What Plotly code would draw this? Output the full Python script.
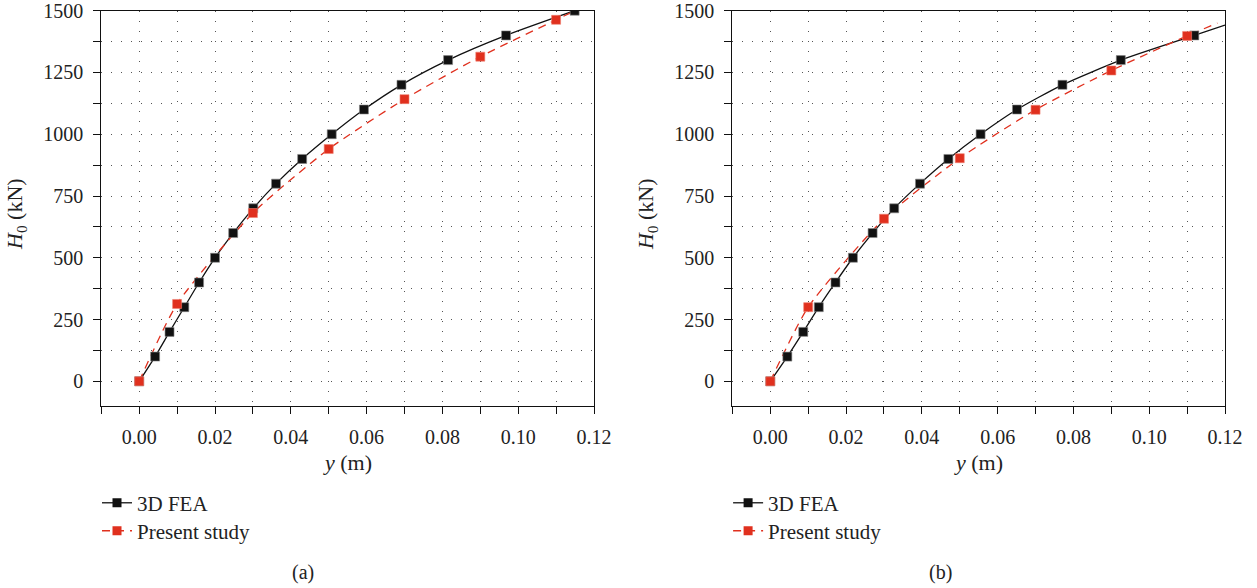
import plotly.graph_objects as go

# ---------------- data ----------------
load_fea = [0, 100, 200, 300, 400, 500, 600, 700, 800, 900, 1000, 1100, 1200, 1300, 1400, 1500]

# panel (a)
fea_a_x = [0, 0.0042, 0.0080, 0.0119, 0.0158, 0.0200, 0.0248, 0.0301, 0.0361,
           0.0430, 0.0508, 0.0593, 0.0692, 0.0815, 0.0968, 0.1149]
fea_a_y = load_fea
fea_a_tail_x = []
fea_a_tail_y = []
present_a_x = [0, 0.01, 0.03, 0.05, 0.07, 0.09, 0.11]
present_a_y = [0, 313, 681, 940, 1142, 1314, 1463]
present_a_tail_x = [0.115]
present_a_tail_y = [1500]

# panel (b)
fea_b_x = [0, 0.0045, 0.0087, 0.0128, 0.0172, 0.0218, 0.0270, 0.0327, 0.0395,
           0.0470, 0.0555, 0.0651, 0.0771, 0.0925, 0.1119]
fea_b_y = load_fea[:15]
fea_b_tail_x = [0.12]
fea_b_tail_y = [1442]
present_b_x = [0, 0.01, 0.03, 0.05, 0.07, 0.09, 0.11]
present_b_y = [0, 300, 658, 903, 1099, 1258, 1398]
present_b_tail_x = [0.118]
present_b_tail_y = [1450]

x_ticks = [0.00, 0.02, 0.04, 0.06, 0.08, 0.10, 0.12]
y_ticks = [0, 250, 500, 750, 1000, 1250, 1500]

series_names = ["3D FEA", "Present study"]
panel_labels = ["(a)", "(b)"]

# ---------------- style ----------------
W, H = 1257, 588
FONT = "Liberation Serif"
BLACK = "#111111"
TXT = "#222222"
RED = "#e0301e"
GRID = "#555555"
MS = 9

def px_x(p):
    return p / W

def px_y(p):
    return 1 - p / H

AX_A = (101.3, 594.0)
AX_B = (732.4, 1225.0)
TOP, BOT = 10.7, 406.0
DX = AX_B[0] - AX_A[0]

fig = go.Figure()

panels = [
    dict(xa="x", ya="y", legs=("legend", "legend2"),
         fx=fea_a_x, fy=fea_a_y, ftx=fea_a_tail_x, fty=fea_a_tail_y,
         px_=present_a_x, py_=present_a_y, ptx=present_a_tail_x, pty=present_a_tail_y),
    dict(xa="x2", ya="y2", legs=("legend3", "legend4"),
         fx=fea_b_x, fy=fea_b_y, ftx=fea_b_tail_x, fty=fea_b_tail_y,
         px_=present_b_x, py_=present_b_y, ptx=present_b_tail_x, pty=present_b_tail_y),
]

for p in panels:
    fig.add_trace(go.Scatter(x=p["fx"] + p["ftx"], y=p["fy"] + p["fty"], mode="lines",
                             line=dict(color=BLACK, width=1.3, shape="spline", smoothing=0.6),
                             xaxis=p["xa"], yaxis=p["ya"], showlegend=False, hoverinfo="skip"))
    fig.add_trace(go.Scatter(x=p["px_"] + p["ptx"], y=p["py_"] + p["pty"], mode="lines",
                             line=dict(color=RED, width=1.3, dash="8px,6px", shape="spline", smoothing=0.6),
                             xaxis=p["xa"], yaxis=p["ya"], showlegend=False, hoverinfo="skip"))
    fig.add_trace(go.Scatter(x=p["fx"], y=p["fy"], mode="markers",
                             marker=dict(symbol="square", size=MS, color=BLACK,
                                         line=dict(color="#888888", width=0.6)),
                             xaxis=p["xa"], yaxis=p["ya"], showlegend=False))
    fig.add_trace(go.Scatter(x=p["px_"], y=p["py_"], mode="markers",
                             marker=dict(symbol="square", size=MS, color=RED,
                                         line=dict(color="#f08070", width=0.6)),
                             xaxis=p["xa"], yaxis=p["ya"], showlegend=False))
    fig.add_trace(go.Scatter(x=[None], y=[None], mode="lines+markers", name=series_names[0],
                             line=dict(color="#333333", width=1.5),
                             marker=dict(symbol="square", size=MS, color=BLACK),
                             xaxis=p["xa"], yaxis=p["ya"], legend=p["legs"][0], showlegend=True))
    fig.add_trace(go.Scatter(x=[None], y=[None], mode="lines+markers", name=series_names[1],
                             line=dict(color=RED, width=1.5, dash="8px,6px"),
                             marker=dict(symbol="square", size=MS, color=RED),
                             xaxis=p["xa"], yaxis=p["ya"], legend=p["legs"][1], showlegend=True))

xdom_a = [px_x(AX_A[0]), px_x(AX_A[1])]
xdom_b = [px_x(AX_B[0]), px_x(AX_B[1])]
ydom = [px_y(BOT), px_y(TOP)]

def xaxis_cfg(dom, anchor):
    return dict(domain=dom, anchor=anchor, range=[-0.01, 0.12], automargin=False,
                tickmode="array", tickvals=x_ticks, tickformat=".2f",
                ticks="outside", ticklen=7, tickwidth=1.2, tickcolor=BLACK,
                ticklabelstandoff=6, ticklabeloverflow="allow",
                showline=True, linecolor=BLACK, linewidth=1.3, mirror=True,
                showgrid=True, gridcolor=GRID, gridwidth=1, griddash="1px,9px",
                zeroline=False,
                minor=dict(dtick=0.01, tick0=0, ticks="outside", ticklen=7, tickcolor=BLACK,
                           tickwidth=1.2,
                           showgrid=True, gridcolor=GRID, gridwidth=1, griddash="1px,9px"),
                tickfont=dict(family=FONT, size=20, color=TXT))

def yaxis_cfg(anchor):
    return dict(domain=ydom, anchor=anchor, range=[-100, 1500], automargin=False,
                tickmode="array", tickvals=y_ticks,
                ticks="outside", ticklen=7, tickwidth=1.2, tickcolor=BLACK,
                ticklabelstandoff=6, ticklabeloverflow="allow",
                showline=True, linecolor=BLACK, linewidth=1.3, mirror=True,
                showgrid=True, gridcolor=GRID, gridwidth=1, griddash="1px,9px",
                zeroline=False,
                minor=dict(dtick=125, tick0=0, ticks="outside", ticklen=7, tickcolor=BLACK,
                           tickwidth=1.2,
                           showgrid=True, gridcolor=GRID, gridwidth=1, griddash="1px,9px"),
                tickfont=dict(family=FONT, size=20, color=TXT))

legend_common = dict(font=dict(family=FONT, size=21, color=TXT),
                     bgcolor="rgba(0,0,0,0)", borderwidth=0, xanchor="left", yanchor="middle",
                     tracegroupgap=0, itemwidth=30)

LEG_X = 97
ROW1, ROW2 = 503, 531

fig.update_layout(
    width=W, height=H, margin=dict(l=0, r=0, t=0, b=0, autoexpand=False),
    paper_bgcolor="white", plot_bgcolor="white",
    xaxis=xaxis_cfg(xdom_a, "y"), yaxis=yaxis_cfg("x"),
    xaxis2=xaxis_cfg(xdom_b, "y2"), yaxis2=yaxis_cfg("x2"),
    legend=dict(x=px_x(LEG_X), y=px_y(ROW1), **legend_common),
    legend2=dict(x=px_x(LEG_X), y=px_y(ROW2), **legend_common),
    legend3=dict(x=px_x(LEG_X + DX), y=px_y(ROW1), **legend_common),
    legend4=dict(x=px_x(LEG_X + DX), y=px_y(ROW2), **legend_common),
    showlegend=True,
)

annots = []
for ax, ytx in [(AX_A, 16), (AX_B, 16 + DX)]:
    annots.append(dict(x=px_x((ax[0] + ax[1]) / 2), y=px_y(462), xref="paper", yref="paper",
                       text="<i>y</i> (m)", showarrow=False, xanchor="center", yanchor="middle",
                       font=dict(family=FONT, size=22, color=TXT)))
    annots.append(dict(x=px_x(ytx), y=px_y(214), xref="paper", yref="paper",
                       text="<i>H</i><sub>0</sub> (kN)", showarrow=False, textangle=-90,
                       xanchor="center", yanchor="middle",
                       font=dict(family=FONT, size=22, color=TXT)))
annots.append(dict(x=px_x(303), y=px_y(572), xref="paper", yref="paper", text=panel_labels[0],
                   showarrow=False, xanchor="center", yanchor="middle",
                   font=dict(family=FONT, size=20, color=TXT)))
annots.append(dict(x=px_x(940), y=px_y(572), xref="paper", yref="paper", text=panel_labels[1],
                   showarrow=False, xanchor="center", yanchor="middle",
                   font=dict(family=FONT, size=20, color=TXT)))
fig.update_layout(annotations=annots)

fig.write_html("out.html", config={"displayModeBar": False},
               post_script="document.body.style.margin='0px';")
